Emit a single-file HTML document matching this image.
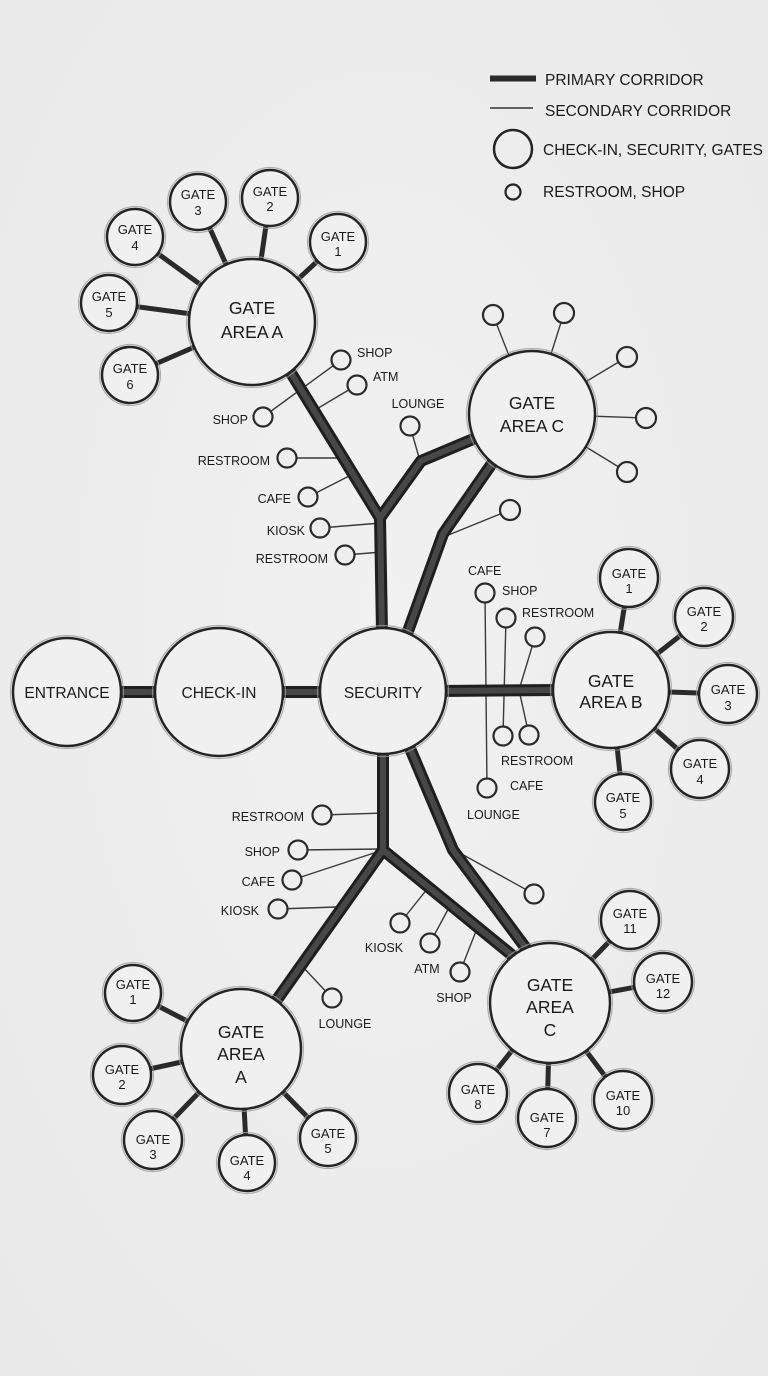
<!DOCTYPE html>
<html><head><meta charset="utf-8"><style>
html,body{margin:0;padding:0;background:#ececec;}
svg{display:block;}
text{font-family:"Liberation Sans",sans-serif;fill:#1a1a1a;}
</style></head><body>
<svg width="768" height="1376" viewBox="0 0 768 1376" xmlns="http://www.w3.org/2000/svg">
<defs>
<radialGradient id="bg" cx="50%" cy="45%" r="80%">
<stop offset="0" stop-color="#f1f1f1"/><stop offset="1" stop-color="#e8e8e8"/>
</radialGradient>
</defs>
<rect width="768" height="1376" fill="url(#bg)"/>

<!-- thin secondary lines -->
<g stroke="#3a3a3a" stroke-width="1.4" fill="none" stroke-linecap="round">
<line x1="263" y1="417" x2="341" y2="360"/>
<line x1="357" y1="385" x2="315" y2="410"/>
<line x1="287" y1="458" x2="342" y2="458"/>
<line x1="308" y1="497" x2="353" y2="474"/>
<line x1="320" y1="528" x2="381" y2="523"/>
<line x1="345" y1="555" x2="382" y2="552"/>
<line x1="410" y1="426" x2="420" y2="461"/>
<line x1="493" y1="315" x2="532" y2="414"/>
<line x1="564" y1="313" x2="532" y2="414"/>
<line x1="627" y1="357" x2="532" y2="414"/>
<line x1="646" y1="418" x2="532" y2="414"/>
<line x1="627" y1="472" x2="532" y2="414"/>
<line x1="510" y1="510" x2="446" y2="536"/>
<line x1="485" y1="593" x2="487" y2="788"/>
<line x1="506" y1="618" x2="503" y2="736"/>
<polyline points="535,637 519,690 529,735"/>
<line x1="322" y1="815" x2="383" y2="813"/>
<line x1="298" y1="850" x2="383" y2="849"/>
<line x1="292" y1="880" x2="380" y2="851"/>
<line x1="278" y1="909" x2="336" y2="907"/>
<line x1="332" y1="998" x2="302" y2="966"/>
<line x1="400" y1="923" x2="428" y2="888"/>
<line x1="430" y1="943" x2="452" y2="902"/>
<line x1="460" y1="972" x2="478" y2="926"/>
<line x1="534" y1="894" x2="458" y2="852"/>
</g>

<!-- primary corridors -->
<g fill="none" stroke-linejoin="round" stroke-linecap="butt">
<g stroke="#1f1f1f" stroke-width="12">
<line x1="110" y1="692" x2="165" y2="692"/>
<line x1="275" y1="692" x2="330" y2="692"/>
<line x1="440" y1="691" x2="560" y2="690"/>
<polyline points="288,368 380,518 382,632"/>
<polyline points="380,518 421,461 478,437"/>
<polyline points="493,462 443,534 407,634"/>
<line x1="383" y1="748" x2="383" y2="850"/>
<polyline points="383,850 276,1001"/>
<polyline points="383,850 513,956"/>
<polyline points="409,746 453,850 528,951"/>
</g>
<g stroke="#474747" stroke-width="6">
<line x1="110" y1="692" x2="165" y2="692"/>
<line x1="275" y1="692" x2="330" y2="692"/>
<line x1="440" y1="691" x2="560" y2="690"/>
<polyline points="288,368 380,518 382,632"/>
<polyline points="380,518 421,461 478,437"/>
<polyline points="493,462 443,534 407,634"/>
<line x1="383" y1="748" x2="383" y2="850"/>
<polyline points="383,850 276,1001"/>
<polyline points="383,850 513,956"/>
<polyline points="409,746 453,850 528,951"/>
</g>
</g>

<!-- gate connectors -->
<g stroke="#2a2a2a" stroke-width="5" stroke-linecap="butt">
<line x1="338" y1="242" x2="252" y2="322"/>
<line x1="270" y1="198" x2="252" y2="322"/>
<line x1="198" y1="202" x2="252" y2="322"/>
<line x1="135" y1="237" x2="252" y2="322"/>
<line x1="109" y1="303" x2="252" y2="322"/>
<line x1="130" y1="375" x2="252" y2="322"/>
<line x1="629" y1="578" x2="611" y2="690"/>
<line x1="704" y1="617" x2="611" y2="690"/>
<line x1="728" y1="694" x2="611" y2="690"/>
<line x1="700" y1="769" x2="611" y2="690"/>
<line x1="623" y1="802" x2="611" y2="690"/>
<line x1="133" y1="993" x2="241" y2="1049"/>
<line x1="122" y1="1075" x2="241" y2="1049"/>
<line x1="153" y1="1140" x2="241" y2="1049"/>
<line x1="247" y1="1163" x2="241" y2="1049"/>
<line x1="328" y1="1138" x2="241" y2="1049"/>
<line x1="630" y1="920" x2="550" y2="1003"/>
<line x1="663" y1="982" x2="550" y2="1003"/>
<line x1="478" y1="1093" x2="550" y2="1003"/>
<line x1="547" y1="1118" x2="550" y2="1003"/>
<line x1="623" y1="1100" x2="550" y2="1003"/>
</g>

<!-- halo rings -->
<g fill="none" stroke="#9a9a9a" stroke-width="1.2" opacity="0.75">
<circle cx="252" cy="322" r="65.5"/><circle cx="532" cy="414" r="65.5"/>
<circle cx="383" cy="691" r="65.5"/><circle cx="219" cy="692" r="66.5"/><circle cx="67" cy="692" r="56.5"/>
<circle cx="611" cy="690" r="60.5"/><circle cx="241" cy="1049" r="62.5"/><circle cx="550" cy="1003" r="62.5"/>
<circle cx="338" cy="242" r="30.5"/><circle cx="270" cy="198" r="30.5"/><circle cx="198" cy="202" r="30.5"/>
<circle cx="135" cy="237" r="30.5"/><circle cx="109" cy="303" r="30.5"/><circle cx="130" cy="375" r="30.5"/>
<circle cx="629" cy="578" r="31.5"/><circle cx="704" cy="617" r="31.5"/><circle cx="728" cy="694" r="31.5"/>
<circle cx="700" cy="769" r="31.5"/><circle cx="623" cy="802" r="30.5"/>
<circle cx="133" cy="993" r="30.5"/><circle cx="122" cy="1075" r="31.5"/><circle cx="153" cy="1140" r="31.5"/>
<circle cx="247" cy="1163" r="30.5"/><circle cx="328" cy="1138" r="30.5"/>
<circle cx="630" cy="920" r="31.5"/><circle cx="663" cy="982" r="31.5"/><circle cx="478" cy="1093" r="31.5"/>
<circle cx="547" cy="1118" r="31.5"/><circle cx="623" cy="1100" r="31.5"/>
</g>

<!-- main circles -->
<g fill="#f0f0f0" stroke="#242424" stroke-width="2.5">
<circle cx="252" cy="322" r="63"/><circle cx="532" cy="414" r="63"/>
<circle cx="383" cy="691" r="63"/><circle cx="219" cy="692" r="64"/><circle cx="67" cy="692" r="54"/>
<circle cx="611" cy="690" r="58"/><circle cx="241" cy="1049" r="60"/><circle cx="550" cy="1003" r="60"/>
<circle cx="338" cy="242" r="28"/><circle cx="270" cy="198" r="28"/><circle cx="198" cy="202" r="28"/>
<circle cx="135" cy="237" r="28"/><circle cx="109" cy="303" r="28"/><circle cx="130" cy="375" r="28"/>
<circle cx="629" cy="578" r="29"/><circle cx="704" cy="617" r="29"/><circle cx="728" cy="694" r="29"/>
<circle cx="700" cy="769" r="29"/><circle cx="623" cy="802" r="28"/>
<circle cx="133" cy="993" r="28"/><circle cx="122" cy="1075" r="29"/><circle cx="153" cy="1140" r="29"/>
<circle cx="247" cy="1163" r="28"/><circle cx="328" cy="1138" r="28"/>
<circle cx="630" cy="920" r="29"/><circle cx="663" cy="982" r="29"/><circle cx="478" cy="1093" r="29"/>
<circle cx="547" cy="1118" r="29"/><circle cx="623" cy="1100" r="29"/>
</g>

<!-- small amenity circles -->
<g fill="#eeeeee" stroke="#2a2a2a" stroke-width="2.2">
<circle cx="341" cy="360" r="9.5"/><circle cx="357" cy="385" r="9.5"/><circle cx="263" cy="417" r="9.5"/>
<circle cx="287" cy="458" r="9.5"/><circle cx="308" cy="497" r="9.5"/><circle cx="320" cy="528" r="9.5"/>
<circle cx="345" cy="555" r="9.5"/><circle cx="410" cy="426" r="9.5"/>
<circle cx="493" cy="315" r="10"/><circle cx="564" cy="313" r="10"/><circle cx="627" cy="357" r="10"/>
<circle cx="646" cy="418" r="10"/><circle cx="627" cy="472" r="10"/><circle cx="510" cy="510" r="10"/>
<circle cx="485" cy="593" r="9.5"/><circle cx="506" cy="618" r="9.5"/><circle cx="535" cy="637" r="9.5"/>
<circle cx="503" cy="736" r="9.5"/><circle cx="529" cy="735" r="9.5"/><circle cx="487" cy="788" r="9.5"/>
<circle cx="322" cy="815" r="9.5"/><circle cx="298" cy="850" r="9.5"/><circle cx="292" cy="880" r="9.5"/>
<circle cx="278" cy="909" r="9.5"/><circle cx="332" cy="998" r="9.5"/>
<circle cx="400" cy="923" r="9.5"/><circle cx="430" cy="943" r="9.5"/><circle cx="460" cy="972" r="9.5"/>
<circle cx="534" cy="894" r="9.5"/>
</g>

<!-- legend -->
<rect x="490" y="75.5" width="46" height="6" fill="#2a2a2a"/>
<line x1="490" y1="108" x2="533" y2="108" stroke="#333" stroke-width="1.4"/>
<circle cx="513" cy="149" r="19" fill="none" stroke="#242424" stroke-width="2.5"/>
<circle cx="513" cy="192" r="7.5" fill="none" stroke="#242424" stroke-width="2.2"/>
<g font-size="15.5">
<text x="545" y="85">PRIMARY CORRIDOR</text>
<text x="545" y="116">SECONDARY CORRIDOR</text>
<text x="543" y="155">CHECK-IN, SECURITY, GATES</text>
<text x="543" y="197">RESTROOM, SHOP</text>
</g>

<!-- big labels -->
<g font-size="17.5" text-anchor="middle">
<text x="252" y="314">GATE</text><text x="252" y="338">AREA A</text>
<text x="532" y="409">GATE</text><text x="532" y="432">AREA C</text>
<text x="611" y="687">GATE</text><text x="611" y="708">AREA B</text>
<text x="241" y="1038">GATE</text><text x="241" y="1060">AREA</text><text x="241" y="1083">A</text>
<text x="550" y="991">GATE</text><text x="550" y="1013">AREA</text><text x="550" y="1036">C</text>
</g>
<g font-size="15.5" text-anchor="middle">
<text x="67" y="698">ENTRANCE</text>
<text x="219" y="698">CHECK-IN</text>
<text x="383" y="698">SECURITY</text>
</g>

<!-- gate labels -->
<g font-size="13" text-anchor="middle">
<text x="338" y="241">GATE</text><text x="338" y="256">1</text>
<text x="270" y="196">GATE</text><text x="270" y="211">2</text>
<text x="198" y="199">GATE</text><text x="198" y="215">3</text>
<text x="135" y="234">GATE</text><text x="135" y="250">4</text>
<text x="109" y="301">GATE</text><text x="109" y="317">5</text>
<text x="130" y="373">GATE</text><text x="130" y="389">6</text>
<text x="629" y="578">GATE</text><text x="629" y="593">1</text>
<text x="704" y="616">GATE</text><text x="704" y="631">2</text>
<text x="728" y="694">GATE</text><text x="728" y="710">3</text>
<text x="700" y="768">GATE</text><text x="700" y="784">4</text>
<text x="623" y="802">GATE</text><text x="623" y="818">5</text>
<text x="133" y="989">GATE</text><text x="133" y="1004">1</text>
<text x="122" y="1074">GATE</text><text x="122" y="1089">2</text>
<text x="153" y="1144">GATE</text><text x="153" y="1159">3</text>
<text x="247" y="1165">GATE</text><text x="247" y="1180">4</text>
<text x="328" y="1138">GATE</text><text x="328" y="1153">5</text>
<text x="630" y="918">GATE</text><text x="630" y="933">11</text>
<text x="663" y="983">GATE</text><text x="663" y="998">12</text>
<text x="478" y="1094">GATE</text><text x="478" y="1109">8</text>
<text x="547" y="1122">GATE</text><text x="547" y="1137">7</text>
<text x="623" y="1100">GATE</text><text x="623" y="1115">10</text>
</g>

<!-- amenity labels -->
<g font-size="12.5">
<text x="357" y="357">SHOP</text>
<text x="373" y="381">ATM</text>
<text x="248" y="424" text-anchor="end">SHOP</text>
<text x="270" y="465" text-anchor="end">RESTROOM</text>
<text x="291" y="503" text-anchor="end">CAFE</text>
<text x="305" y="535" text-anchor="end">KIOSK</text>
<text x="328" y="563" text-anchor="end">RESTROOM</text>
<text x="418" y="408" text-anchor="middle">LOUNGE</text>
<text x="468" y="575">CAFE</text>
<text x="502" y="595">SHOP</text>
<text x="522" y="617">RESTROOM</text>
<text x="501" y="765">RESTROOM</text>
<text x="510" y="790">CAFE</text>
<text x="467" y="819">LOUNGE</text>
<text x="304" y="821" text-anchor="end">RESTROOM</text>
<text x="280" y="856" text-anchor="end">SHOP</text>
<text x="275" y="886" text-anchor="end">CAFE</text>
<text x="259" y="915" text-anchor="end">KIOSK</text>
<text x="384" y="952" text-anchor="middle">KIOSK</text>
<text x="427" y="973" text-anchor="middle">ATM</text>
<text x="454" y="1002" text-anchor="middle">SHOP</text>
<text x="345" y="1028" text-anchor="middle">LOUNGE</text>
</g>
</svg>
</body></html>
